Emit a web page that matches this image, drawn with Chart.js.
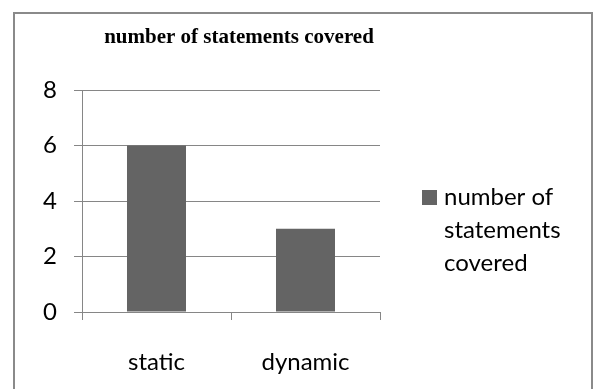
<!DOCTYPE html>
<html>
<head>
<meta charset="utf-8">
<script src="https://cdn.jsdelivr.net/npm/chart.js@4/dist/chart.umd.min.js"></script>
<style>
  html, body { margin:0; padding:0; background:#fff; }
  #wrap { position:relative; width:593px; height:389px; }
  #frame { position:absolute; left:13px; top:12px; width:576px; height:380px; border:2px solid #8a8a8a; }
  canvas { position:absolute; left:0; top:0; }
</style>
</head>
<body>
<div id="wrap">
  <div id="frame"></div>
  <canvas id="chart" width="593" height="389"></canvas>
</div>
<script>
const categories = ['static', 'dynamic'];
const coveredCounts = [6, 3];
const seriesName = 'number of statements covered';
const legendLines = ['number of', 'statements', 'covered'];
const yTicks = [0, 2, 4, 6, 8];

const barColor = '#646464';
const gridColor = '#868686';
const labelFont = { family: 'Lato', size: 24 };

// title and legend are drawn by hand, so they sit where the original put them
const extras = {
  id: 'extras',
  afterDraw(chart){
    const ctx = chart.ctx;
    ctx.save();
    ctx.fillStyle = '#000';
    ctx.font = 'bold 21px "Liberation Serif"';
    ctx.textAlign = 'center';
    ctx.textBaseline = 'alphabetic';
    ctx.fillText(seriesName, 239, 42.5);

    ctx.fillStyle = barColor;
    ctx.fillRect(422, 190, 15, 15);
    ctx.fillStyle = '#000';
    ctx.font = '24px Lato';
    ctx.textAlign = 'left';
    legendLines.forEach((t, i)=> ctx.fillText(t, 444, 205 + i*33));
    ctx.restore();
  }
};

function main(){
  const ctx = document.getElementById('chart').getContext('2d');
  new Chart(ctx, {
    type: 'bar',
    data: {
      labels: categories,
      datasets: [{ label: seriesName, data: coveredCounts, backgroundColor: barColor,
                   categoryPercentage: 1, barPercentage: 0.396 }]
    },
    options: {
      responsive: false,
      animation: false,
      layout: { padding: { top: 90, right: 213, bottom: 0, left: 0 } },
      plugins: { legend: { display: false }, title: { display: false }, tooltip: { enabled: false } },
      scales: {
        x: {
          afterFit(scale){ scale.height = 77; },
          grid: { drawOnChartArea: false, color: gridColor, tickLength: 8 },
          border: { color: gridColor },
          ticks: { color: '#000', font: labelFont, padding: 27.6 }
        },
        y: {
          min: 0, max: 8,
          afterFit(scale){ scale.width = 82; },
          afterBuildTicks(scale){ scale.ticks = yTicks.map(v=>({ value: v })); },
          grid: { color: gridColor, tickLength: 8 },
          border: { color: gridColor },
          ticks: { color: '#000', font: labelFont, padding: 17 }
        }
      }
    },
    plugins: [extras]
  });
}
document.addEventListener('DOMContentLoaded', main);
</script>
</body>
</html>
